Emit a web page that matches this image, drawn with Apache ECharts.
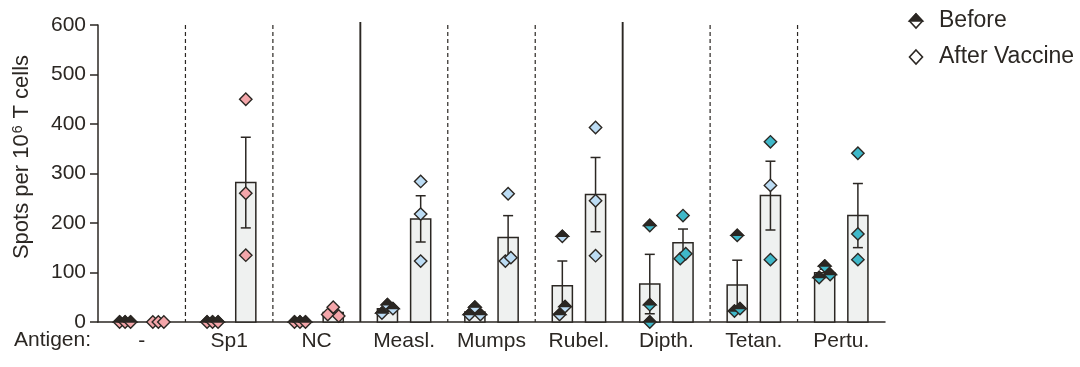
<!DOCTYPE html>
<html><head><meta charset="utf-8">
<script src="https://cdn.jsdelivr.net/npm/echarts@6/dist/echarts.min.js"></script>
<style>html,body{margin:0;padding:0;background:#fff}#c{width:1080px;height:367px}</style>
</head><body><div id="c"></div>
<script>
// ---------- data ----------
const categories = ['-', 'Sp1', 'NC', 'Measl.', 'Mumps', 'Rubel.', 'Dipth.', 'Tetan.', 'Pertu.'];
const beforeValues = [[0,0,0],[0,0,0],[0,0,0],[18,35,27],[15,30,15],[173,15,31],[195,35,0],[175,22,27],[90,113,96]];
const afterValues  = [[0,0,0],[450,260,135],[15,30,12],[284,218,123],[123,259,130],[393,245,134],[128,215,138],[364,276,126],[341,178,126]];
const yMin = 0, yMax = 600, yStep = 100;
const seriesNames = ['Before', 'After Vaccine'];

// ---------- styles ----------
const INK = '#2b2723';
const groupColor = ['#f4a6aa','#f4a6aa','#f4a6aa','#bcdcf4','#bcdcf4','#bcdcf4','#3fb8c9','#3fb8c9','#3fb8c9'];
const pointColorOverride = {'7-1-1': '#bcdcf4'}; // odd light-blue point in reference
const FONT = 'Liberation Sans, Arial, sans-serif';

function mean(a){return a.reduce((s,v)=>s+v,0)/a.length;}
function sem(a){const m=mean(a);const v=a.reduce((s,x)=>s+(x-m)*(x-m),0)/(a.length-1);return Math.sqrt(v/a.length);}
function jitter(vals){
  const order = vals.map((v,i)=>i).sort((a,b)=>vals[a]-vals[b]);
  const clusters=[]; let cur=[order[0]];
  for(let k=1;k<order.length;k++){
    if(vals[order[k]]-vals[order[k-1]]<=20) cur.push(order[k]); else {clusters.push(cur);cur=[order[k]];}
  }
  clusters.push(cur);
  const off=new Array(vals.length).fill(0);
  clusters.forEach(c=>{c.sort((a,b)=>a-b);c.forEach((idx,j)=>{off[idx]=(j-(c.length-1)/2);});});
  return off;
}

const groups=[beforeValues, afterValues];
const barData=[], errData=[], ptData=[];
groups.forEach((g,w)=>{
  g.forEach((vals,ci)=>{
    const m=mean(vals), s=sem(vals);
    barData.push([ci,w,m]);
    errData.push([ci,w,m-s,m+s]);
    const j=jitter(vals);
    vals.forEach((v,pi)=>ptData.push([ci,w,v,j[pi],pi]));
  });
});
const sepData=[1,2,3,4,5,6,7,8].map(i=>[i]);

const chart=echarts.init(document.getElementById('c'),null,{renderer:'canvas'});

function band(api){return api.size([1,0])[0];}
function offsetX(api,w){return (w===0?-1:1)*band(api)*0.19;}

const option={
  animation:false,
  backgroundColor:'#fff',
  grid:{left:98,right:195,top:25,bottom:45,containLabel:false},
  xAxis:{type:'category',data:categories,boundaryGap:true,
    axisLine:{lineStyle:{color:INK,width:1.5}},
    axisTick:{alignWithLabel:true,interval:0,length:9,lineStyle:{color:INK,width:1.5}},
    axisLabel:{interval:0,color:INK,fontSize:21,fontFamily:FONT,margin:9},
    splitLine:{show:false}},
  yAxis:{type:'value',min:yMin,max:yMax,interval:yStep,
    axisLine:{show:true,lineStyle:{color:INK,width:1.5}},
    axisTick:{show:true,length:8,lineStyle:{color:INK,width:1.5}},
    axisLabel:{color:INK,fontSize:21,fontFamily:FONT,margin:12},
    splitLine:{show:false}},
  graphic:[
    {type:'text',left:14,top:330,style:{text:'Antigen:',fill:INK,font:'21px '+FONT}},
    {type:'text',x:22,y:157,rotation:Math.PI/2,
      style:{text:'{a|Spots per 10}{s|6}{a| T cells}',align:'center',verticalAlign:'middle',
        rich:{a:{fontSize:22,fontFamily:FONT,fill:INK,color:INK},s:{fontSize:14,fontFamily:FONT,color:INK,fill:INK,verticalAlign:'top',padding:[0,1,0,1]}}}},
    // legend
    {type:'polygon',shape:{points:[[916,14],[922.5,21],[916,28],[909.5,21]]},style:{fill:'#fff',stroke:INK,lineWidth:1.6}},
    {type:'polygon',shape:{points:[[916,14],[922.5,21],[909.5,21]]},style:{fill:INK,stroke:INK,lineWidth:1.6}},
    {type:'text',left:939,top:9,style:{text:seriesNames[0],fill:INK,font:'23px '+FONT}},
    {type:'polygon',shape:{points:[[916,50],[922.5,57],[916,64],[909.5,57]]},style:{fill:'#fff',stroke:INK,lineWidth:1.6}},
    {type:'text',left:939,top:45,style:{text:seriesNames[1],fill:INK,font:'23px '+FONT}}
  ],
  series:[
    {type:'custom',z:1,data:sepData,silent:true,
      renderItem:function(params,api){
        const i=api.value(0);
        const cs=params.coordSys;
        const x=api.coord([i,0])[0]-band(api)/2;
        const solid=(i%3===0);
        return {type:'line',shape:{x1:x,y1:solid?cs.y-3:cs.y,x2:x,y2:cs.y+cs.height},
          style:{stroke:INK,lineWidth:solid?1.9:1.2,lineDash:solid?null:[4,3]}};
      }},
    {type:'custom',z:2,data:barData,silent:true,
      renderItem:function(params,api){
        const ci=api.value(0),w=api.value(1),m=api.value(2);
        const p=api.coord([ci,m]), p0=api.coord([ci,0]);
        const cx=p[0]+offsetX(api,w), bw=band(api)*0.23;
        return {type:'rect',shape:{x:cx-bw/2,y:p[1],width:bw,height:p0[1]-p[1]},
          style:{fill:'#eff1f0',stroke:INK,lineWidth:1.5}};
      }},
    {type:'custom',z:3,data:errData,silent:true,
      renderItem:function(params,api){
        const ci=api.value(0),w=api.value(1);
        const lo=api.coord([ci,api.value(2)]), hi=api.coord([ci,api.value(3)]);
        const cx=lo[0]+offsetX(api,w), cw=5;
        const st={stroke:INK,lineWidth:1.5};
        return {type:'group',children:[
          {type:'line',shape:{x1:cx,y1:lo[1],x2:cx,y2:hi[1]},style:st},
          {type:'line',shape:{x1:cx-cw,y1:lo[1],x2:cx+cw,y2:lo[1]},style:st},
          {type:'line',shape:{x1:cx-cw,y1:hi[1],x2:cx+cw,y2:hi[1]},style:st}
        ]};
      }},
    {type:'custom',z:4,data:ptData,silent:true,
      renderItem:function(params,api){
        const ci=api.value(0),w=api.value(1),v=api.value(2),j=api.value(3),pi=api.value(4);
        const p=api.coord([ci,v]);
        const cx=p[0]+offsetX(api,w)+j*5.5, cy=p[1], r=6.2;
        const col=pointColorOverride[ci+'-'+w+'-'+pi]||groupColor[ci];
        const ch=[{type:'polygon',shape:{points:[[cx,cy-r],[cx+r,cy],[cx,cy+r],[cx-r,cy]]},
          style:{fill:col,stroke:INK,lineWidth:1.4}}];
        if(w===0) ch.push({type:'polygon',shape:{points:[[cx,cy-r],[cx+r,cy],[cx-r,cy]]},
          style:{fill:INK,stroke:INK,lineWidth:1.4}});
        return {type:'group',children:ch};
      }}
  ]
};
chart.setOption(option);
</script>
</body></html>
